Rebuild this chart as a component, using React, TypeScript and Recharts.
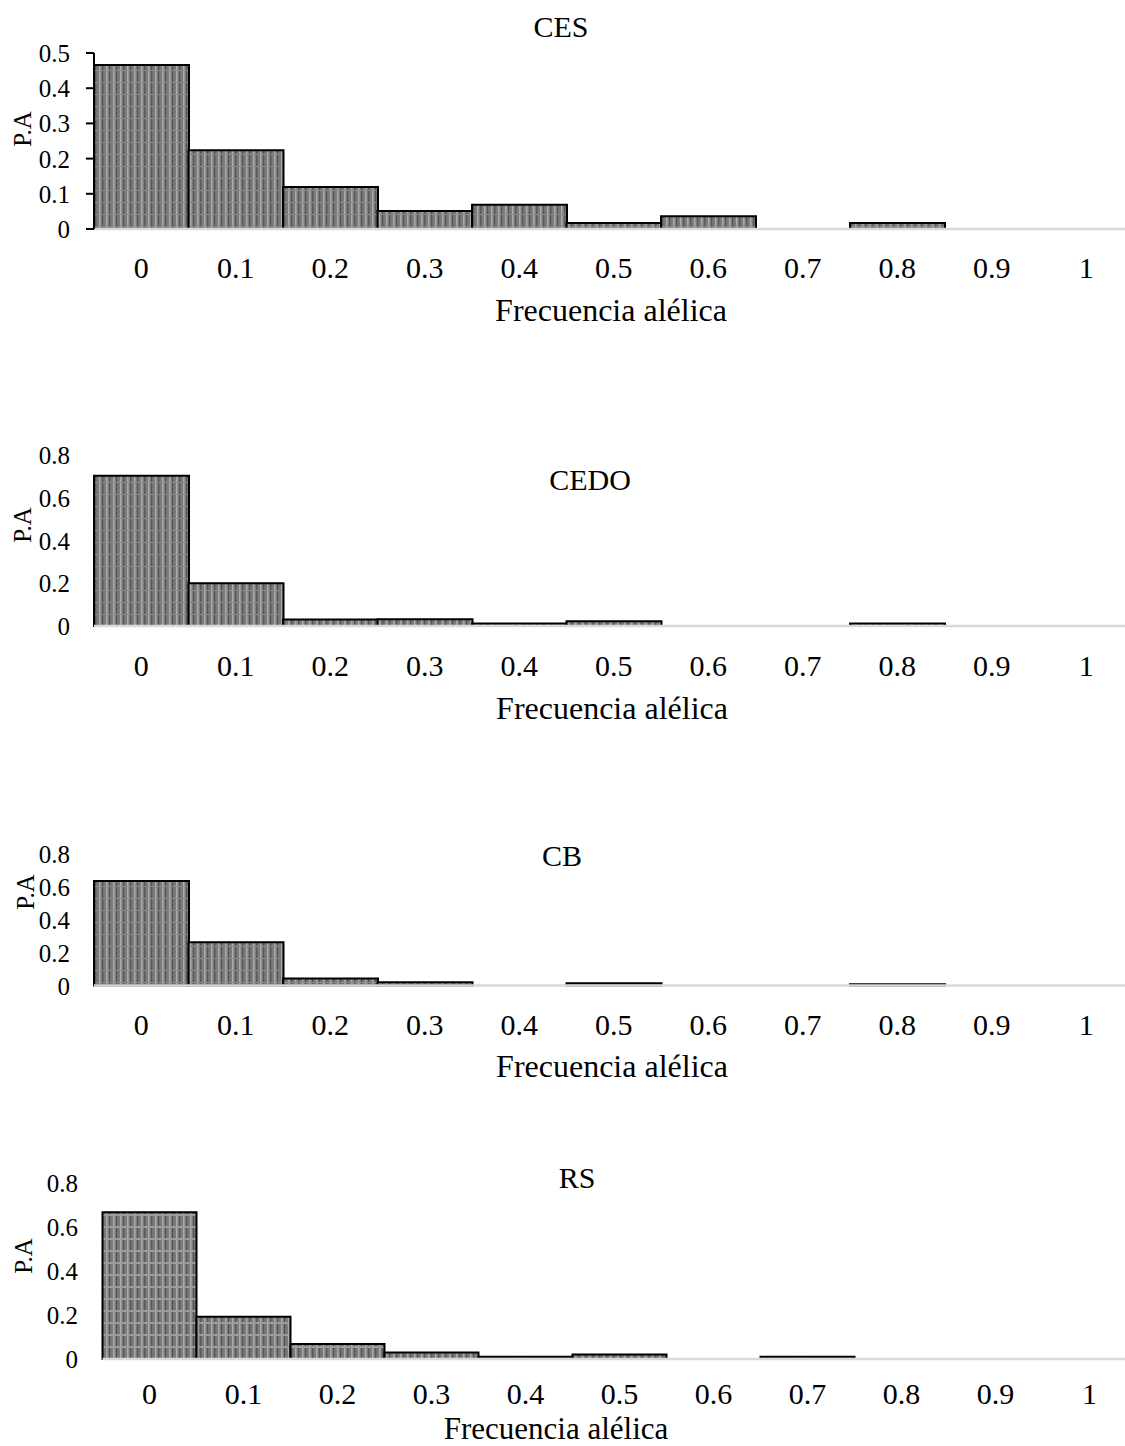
import React from 'react';
import { BarChart, Bar, XAxis, YAxis } from 'recharts';

const categories = ['0', '0.1', '0.2', '0.3', '0.4', '0.5', '0.6', '0.7', '0.8', '0.9', '1'];
const cesValues = [0.466, 0.224, 0.119, 0.051, 0.069, 0.017, 0.036, 0, 0.017, 0, 0];
const cedoValues = [0.703, 0.2, 0.03, 0.032, 0.012, 0.022, 0, 0, 0.012, 0, 0];
const cbValues = [0.634, 0.262, 0.042, 0.02, 0, 0.014, 0, 0, 0.008, 0, 0];
const rsValues = [0.667, 0.192, 0.068, 0.03, 0.01, 0.02, 0, 0.01, 0, 0, 0];
const cesTicks = [0, 0.1, 0.2, 0.3, 0.4, 0.5];
const otherTicks = [0, 0.2, 0.4, 0.6, 0.8];
const panelTitles = ['CES', 'CEDO', 'CB', 'RS'];
const yAxisTitle = 'P.A';
const xAxisTitle = 'Frecuencia alélica';

const FONT = '"Liberation Serif", "Times New Roman", Times, serif';

type Cfg = {
  id: string;
  title: string;
  values: number[];
  ticks: number[];
  yMax: number;
  top: number;
  height: number;
  plotTop: number;
  plotBottom: number;
  plotLeft: number;
  band: number;
  yTickRight: number;
  yAxisLine: boolean;
  titlePos: [number, number];
  yLabelPos: [number, number];
  xTitlePos: [number, number];
  xTickOffset: number;
  xTitleSize: number;
  hStripe: boolean;
};

const panels: Cfg[] = [
  {
    id: 'p1', title: panelTitles[0], values: cesValues, ticks: cesTicks, yMax: 0.5,
    top: 0, height: 380, plotTop: 53, plotBottom: 229, plotLeft: 94, band: 94.5,
    yTickRight: 70, yAxisLine: true, titlePos: [561, 37], yLabelPos: [31, 129], xTitlePos: [611, 321],
    xTickOffset: 49, xTitleSize: 32, hStripe: false,
  },
  {
    id: 'p2', title: panelTitles[1], values: cedoValues, ticks: otherTicks, yMax: 0.8,
    top: 400, height: 360, plotTop: 455, plotBottom: 626, plotLeft: 94, band: 94.5,
    yTickRight: 70, yAxisLine: false, titlePos: [590, 490], yLabelPos: [31, 525], xTitlePos: [612, 719],
    xTickOffset: 50, xTitleSize: 32, hStripe: false,
  },
  {
    id: 'p3', title: panelTitles[2], values: cbValues, ticks: otherTicks, yMax: 0.8,
    top: 780, height: 330, plotTop: 853.5, plotBottom: 985.5, plotLeft: 94, band: 94.5,
    yTickRight: 70, yAxisLine: false, titlePos: [562, 866], yLabelPos: [34, 892], xTitlePos: [612, 1077],
    xTickOffset: 49, xTitleSize: 32, hStripe: false,
  },
  {
    id: 'p4', title: panelTitles[3], values: rsValues, ticks: otherTicks, yMax: 0.8,
    top: 1120, height: 326, plotTop: 1183, plotBottom: 1359, plotLeft: 102.5, band: 94,
    yTickRight: 78, yAxisLine: false, titlePos: [577, 1188], yLabelPos: [32, 1256], xTitlePos: [556, 1439],
    xTickOffset: 45, xTitleSize: 31, hStripe: true,
  },
];

function Texts({ cfg }: { cfg: Cfg }) {
  const t = cfg.top;
  return (
    <g>
      <text x={cfg.titlePos[0]} y={cfg.titlePos[1] - t} textAnchor="middle" fontFamily={FONT} fontSize={30} fill="#000">
        {cfg.title}
      </text>
      <text
        x={cfg.yLabelPos[0]}
        y={cfg.yLabelPos[1] - t}
        textAnchor="middle"
        fontFamily={FONT}
        fontSize={25}
        fill="#000"
        transform={`rotate(-90 ${cfg.yLabelPos[0]} ${cfg.yLabelPos[1] - t})`}
      >
        {yAxisTitle}
      </text>
    </g>
  );
}

function XTitle({ cfg }: { cfg: Cfg }) {
  return (
    <text
      x={cfg.xTitlePos[0]}
      y={cfg.xTitlePos[1] - cfg.top}
      textAnchor="middle"
      fontFamily={FONT}
      fontSize={cfg.xTitleSize}
      fill="#000"
    >
      {xAxisTitle}
    </text>
  );
}

function Panel({ cfg }: { cfg: Cfg }) {
  const data = categories.map((c, i) => ({ cat: c, value: cfg.values[i] }));
  const localTop = cfg.plotTop - cfg.top;
  const localBottom = cfg.plotBottom - cfg.top;
  const width = cfg.plotLeft + cfg.band * 11;
  const xTick = (props: any) => (
    <text x={props.x} y={localBottom + cfg.xTickOffset} textAnchor="middle" fontFamily={FONT} fontSize={30} fill="#000">
      {props.payload.value}
    </text>
  );
  const yTick = (props: any) => (
    <g>
      {cfg.yAxisLine && (
        <line x1={cfg.plotLeft - 8} x2={cfg.plotLeft} y1={props.y} y2={props.y} stroke="#000" strokeWidth={2} />
      )}
      <text x={cfg.yTickRight} y={props.y} dy="0.36em" textAnchor="end" fontFamily={FONT} fontSize={25} fill="#000">
        {String(props.payload.value)}
      </text>
    </g>
  );
  return (
    <div style={{ position: 'absolute', left: 0, top: cfg.top }}>
      <BarChart
        width={width}
        height={cfg.height}
        data={data}
        margin={{ top: localTop, right: 0, bottom: 0, left: 0 }}
        barCategoryGap={0}
        barGap={0}
      >
        <defs>
          <pattern id={`stripe-${cfg.id}`} patternUnits="userSpaceOnUse" width={7} height={12}>
            <rect x={0} y={0} width={7} height={12} fill="#7a7a7a" />
            <rect x={1} y={0} width={1.5} height={12} fill="#ababab" />
            <rect x={4} y={0} width={1.3} height={12} fill="#565656" />
            <rect x={0} y={10} width={7} height={cfg.hStripe ? 2 : 1} fill={cfg.hStripe ? '#9c9c9c' : '#8a8a8a'} />
          </pattern>
        </defs>
        <XAxis
          dataKey="cat"
          height={cfg.height - localBottom}
          interval={0}
          tickSize={0}
          tickMargin={0}
          tickLine={false}
          axisLine={{ stroke: '#d9d9d9', strokeWidth: 2.5 }}
          tick={xTick}
          label={<XTitle cfg={cfg} />}
        />
        <YAxis
          width={cfg.plotLeft}
          domain={[0, cfg.yMax]}
          ticks={cfg.ticks}
          interval={0}
          tickSize={0}
          tickMargin={0}
          tickLine={false}
          axisLine={cfg.yAxisLine ? { stroke: '#000', strokeWidth: 2 } : false}
          tick={yTick}
          label={<Texts cfg={cfg} />}
        />
        <Bar dataKey="value" fill={`url(#stripe-${cfg.id})`} stroke="#000" strokeWidth={2} isAnimationActive={false} />
      </BarChart>
    </div>
  );
}

export default function App() {
  return (
    <div
      style={{
        position: 'absolute',
        left: 0,
        top: 0,
        width: 1125,
        height: 1446,
        overflow: 'hidden',
        background: '#fff',
      }}
    >
      {panels.map((p) => (
        <Panel key={p.id} cfg={p} />
      ))}
    </div>
  );
}
